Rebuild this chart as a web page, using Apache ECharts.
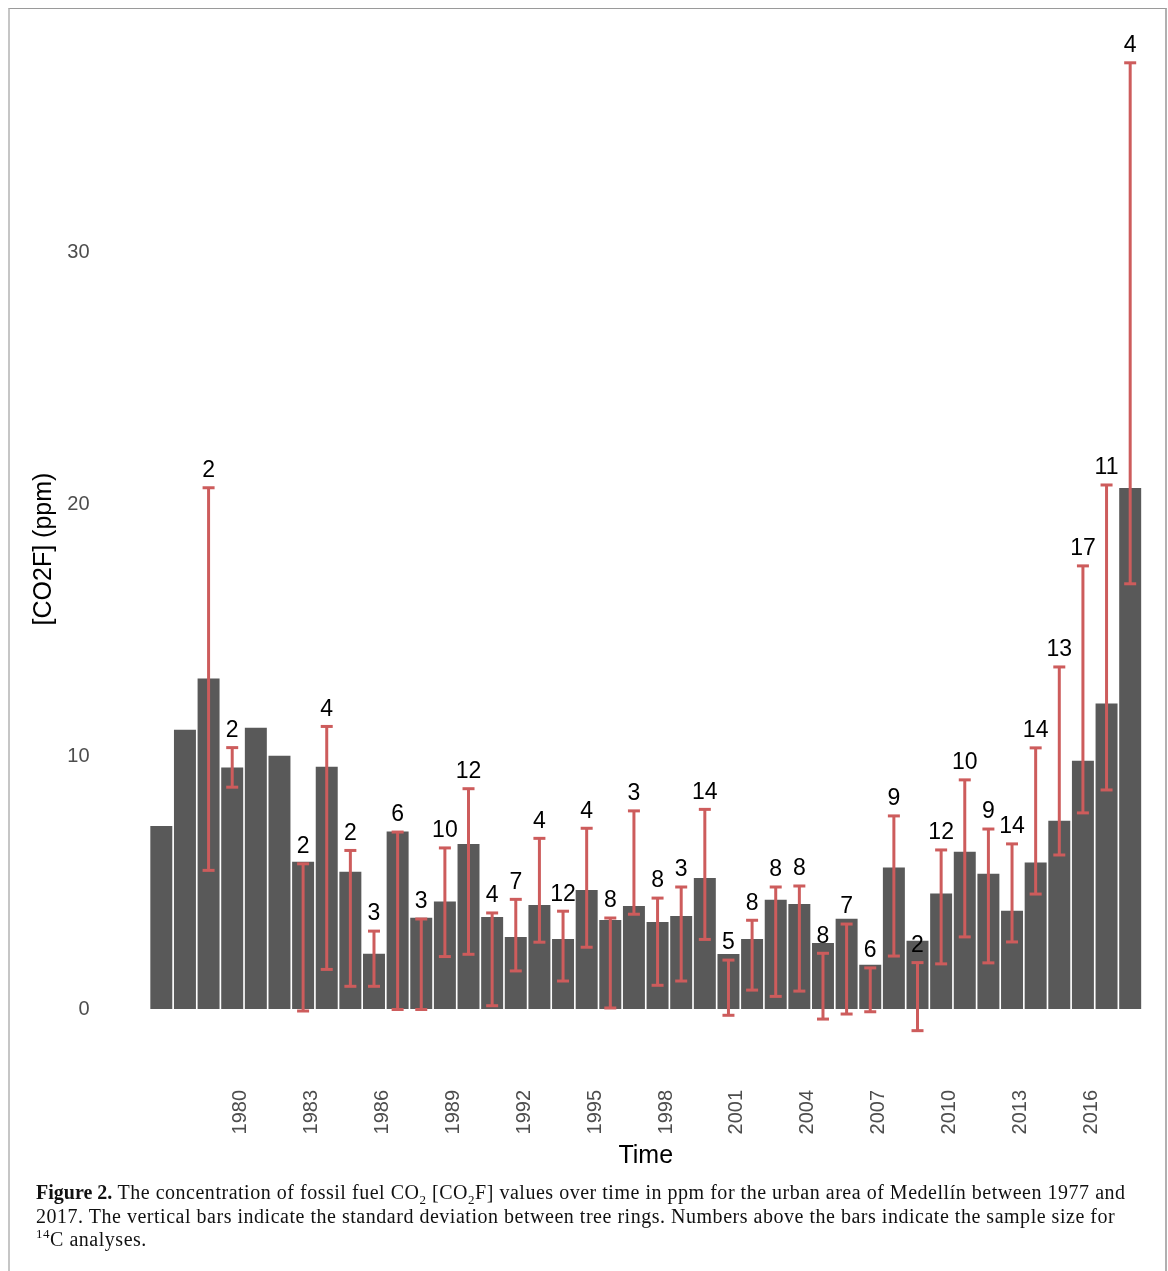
<!DOCTYPE html>
<html>
<head>
<meta charset="utf-8">
<script src="https://cdn.jsdelivr.net/npm/echarts@6/dist/echarts.min.js"></script>
<style>
  html, body { margin: 0; padding: 0; background: #fff; }
  #frame { position: absolute; left: 8px; top: 8px; width: 1155px; height: 1290px;
           border-top: 1px solid #9a9a9a; border-left: 2px solid #c6c6c6; border-right: 2px solid #b0b0b0; }
  #chart { position: absolute; left: 0; top: 0; width: 1168px; height: 1271px; }
  #caption { position: absolute; left: 36px; top: 1181px; font-family: 'Liberation Serif', 'Times New Roman', serif;
             font-size: 20px; letter-spacing: 0.52px; line-height: 23.5px; color: #111; white-space: nowrap; }
  #caption b { letter-spacing: 0; }
  #caption sub, #caption sup { font-size: 13px; line-height: 0; }
</style>
</head>
<body>
<div id="frame"></div>
<div id="chart"></div>
<div id="caption"><b>Figure 2.</b> The concentration of fossil fuel CO<sub>2</sub> [CO<sub>2</sub>F] values over time in ppm for the urban area of Medellín between 1977 and<br>2017. The vertical bars indicate the standard deviation between tree rings. Numbers above the bars indicate the sample size for<br><sup>14</sup>C analyses.</div>
<script>
// ---- data ----
const years = ['1977','1978','1979','1980','1981','1982','1983','1984','1985','1986',
  '1987','1988','1989','1990','1991','1992','1993','1994','1995','1996',
  '1997','1998','1999','2000','2001','2002','2003','2004','2005','2006',
  '2007','2008','2009','2010','2011','2012','2013','2014','2015','2016',
  '2017','2018'];
const co2f = [7.26, 11.08, 13.11, 9.58, 11.16, 10.05, 5.84, 9.61, 5.44, 2.19,
  7.04, 3.62, 4.26, 6.55, 3.65, 2.86, 4.13, 2.78, 4.72, 3.53,
  4.09, 3.45, 3.69, 5.20, 2.18, 2.78, 4.33, 4.17, 2.62, 3.58,
  1.76, 5.61, 2.71, 4.58, 6.24, 5.37, 3.90, 5.81, 7.47, 9.85,
  12.12, 20.67];
const errUpper = [null, null, 20.68, 10.37, null, null, 5.76, 11.21, 6.29, 3.09,
  7.02, 3.57, 6.39, 8.74, 3.81, 4.35, 6.77, 3.88, 7.17, 3.61,
  7.86, 4.40, 4.84, 7.92, 1.94, 3.52, 4.84, 4.88, 2.21, 3.37,
  1.63, 7.66, 1.84, 6.31, 9.09, 7.14, 6.55, 10.36, 13.57, 17.58,
  20.79, 37.54];
const errLower = [null, null, 5.50, 8.80, null, null, -0.08, 1.57, 0.90, 0.90,
  -0.02, -0.02, 2.08, 2.17, 0.13, 1.51, 2.65, 1.11, 2.45, 0.04,
  3.76, 0.94, 1.11, 2.76, -0.25, 0.75, 0.50, 0.71, -0.40, -0.20,
  -0.11, 2.10, -0.86, 1.79, 2.86, 1.83, 2.66, 4.56, 6.11, 7.78,
  8.69, 16.87];
const sampleN = [null, null, 2, 2, null, null, 2, 4, 2, 3,
  6, 3, 10, 12, 4, 7, 4, 12, 4, 8,
  3, 8, 3, 14, 5, 8, 8, 8, 8, 7,
  6, 9, 2, 12, 10, 9, 14, 14, 13, 17,
  11, 4];
const yTicks = [0, 10, 20, 30];

const errData = [];
years.forEach((y, i) => {
  if (errUpper[i] != null) errData.push([i, errLower[i], errUpper[i], sampleN[i]]);
});

const RED = '#cd5c5c';
const FONT = "'Liberation Sans', Arial, Helvetica, sans-serif";

const chart = echarts.init(document.getElementById('chart'), null, { renderer: 'canvas' });
chart.setOption({
  backgroundColor: 'transparent',
  animation: false,
  grid: { left: 149.5, top: 26, width: 992.5, height: 1046 },
  xAxis: {
    type: 'category',
    data: years,
    boundaryGap: true,
    axisLine: { show: false },
    axisTick: { show: false },
    splitLine: { show: false },
    axisLabel: {
      rotate: 90,
      margin: 18,
      interval: (idx, val) => (+val >= 1980 && (+val - 1980) % 3 === 0),
      fontFamily: FONT, fontSize: 20, color: '#4d4d4d',
      verticalAlign: 'top',
      lineHeight: 17
    },
    name: 'Time',
    nameLocation: 'middle',
    nameGap: 72,
    nameTextStyle: { fontFamily: FONT, fontSize: 25, color: '#000' }
  },
  yAxis: {
    type: 'value',
    min: -2.5,
    max: 39,
    axisLine: { show: false },
    axisTick: { show: false },
    splitLine: { show: false },
    axisLabel: {
      customValues: yTicks,
      margin: 60,
      fontFamily: FONT, fontSize: 20, color: '#4d4d4d'
    },
    name: '[CO2F] (ppm)',
    nameLocation: 'middle',
    nameGap: 88,
    nameTextStyle: { fontFamily: FONT, fontSize: 25, color: '#000' }
  },
  series: [
    {
      type: 'bar',
      data: co2f,
      barCategoryGap: '7%',
      itemStyle: { color: '#595959' },
      silent: true
    },
    {
      type: 'custom',
      data: errData,
      z: 5,
      silent: true,
      renderItem: (params, api) => {
        const x = api.value(0);
        const pHi = api.coord([x, api.value(2)]);
        const pLo = api.coord([x, api.value(1)]);
        const hw = 6;
        const st = { stroke: RED, lineWidth: 3 };
        return {
          type: 'group',
          children: [
            { type: 'line', shape: { x1: pHi[0], y1: pHi[1], x2: pLo[0], y2: pLo[1] }, style: st },
            { type: 'line', shape: { x1: pHi[0] - hw, y1: pHi[1], x2: pHi[0] + hw, y2: pHi[1] }, style: st },
            { type: 'line', shape: { x1: pLo[0] - hw, y1: pLo[1], x2: pLo[0] + hw, y2: pLo[1] }, style: st },
            { type: 'text', x: pHi[0], y: pHi[1] - 17,
              style: { text: String(api.value(3)), align: 'center', verticalAlign: 'middle',
                       font: '23px ' + FONT, fill: '#000' } }
          ]
        };
      }
    }
  ]
});
</script>
</body>
</html>
